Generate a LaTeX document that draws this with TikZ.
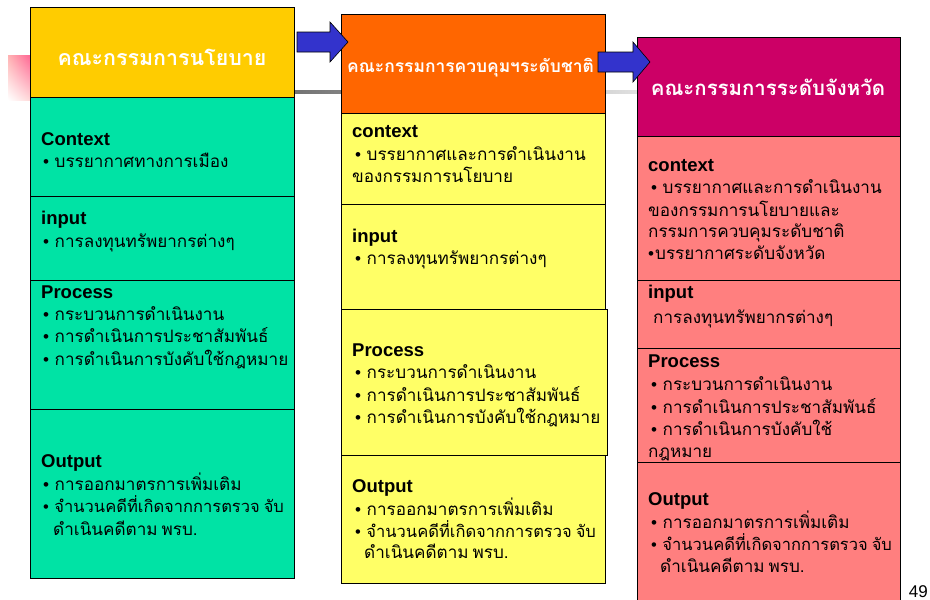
\documentclass[tikz,border=0pt]{standalone}
\usepackage{fontspec}
\setmainfont{Liberation Sans}
\newfontfamily\thaifont[Script=Thai]{Loma}
\usetikzlibrary{calc,shadings}
\definecolor{hyel}{HTML}{FFCC00}
\definecolor{bgreen}{HTML}{00E3A5}
\definecolor{horange}{HTML}{FF6600}
\definecolor{byellow}{HTML}{FFFF66}
\definecolor{hmag}{HTML}{CC0066}
\definecolor{bpink}{HTML}{FF7F7F}
\definecolor{barrow}{HTML}{3333CC}
\newcommand\bu{{\rmfamily •}\hspace{5.5pt}}
\newcommand\tsp{\hspace{4pt}}
\newcommand\pbox[6]{\node[panel, fill=#6, minimum width=#4pt, minimum height=#5pt] (#1) at (#2,#3) {};}
\begin{document}
\begin{tikzpicture}[x=1pt,y=-1pt,
 panel/.style={draw=black, line width=0.8pt, anchor=north west, inner sep=0pt, outer sep=0pt},
 lab/.style={anchor=base west, inner sep=0pt, font=\fontsize{18.5}{18.5}\selectfont\bfseries},
 item/.style={anchor=base west, inner sep=0pt, font=\fontsize{17.1}{17.1}\thaifont},
 itemn/.style={item, font=\fontsize{16.5}{16.5}\thaifont},
 head/.style={inner sep=0pt, text=white, font=\fontsize{21.4}{21.4}\thaifont\bfseries},
 blockarrow/.style={draw=black, fill=barrow, line width=0.6pt, line join=miter}]
\useasboundingbox (0,0) rectangle (930,600);
% background decoration
\shade[upper left=red!30, upper right=red!70!magenta!60, lower left=white, lower right=red!15] (8,55) rectangle (30,100);
\shade[left color=black!55, right color=black!12] (294,90.5) rectangle (637,93.5);
% column 1
\pbox{h1}{30}{7}{264}{90}{hyel}
\pbox{c1ctx}{30}{97}{264}{99}{bgreen}
\pbox{c1inp}{30}{196}{264}{84}{bgreen}
\pbox{c1pro}{30}{280}{264}{129}{bgreen}
\pbox{c1out}{30}{409}{264}{169}{bgreen}
% column 2
\pbox{h2}{341}{14}{264}{99}{horange}
\pbox{c2ctx}{341}{113}{264}{91}{byellow}
\pbox{c2inp}{341}{204}{264}{105}{byellow}
\pbox{c2pro}{341}{309}{266}{146}{byellow}
\pbox{c2out}{341}{455}{264}{128}{byellow}
% column 3
\pbox{h3}{637}{37}{263}{99}{hmag}
\pbox{c3ctx}{637}{136}{263}{144}{bpink}
\pbox{c3inp}{637}{280}{263}{68}{bpink}
\pbox{c3pro}{637}{348}{263}{114}{bpink}
\pbox{c3out}{637}{462}{263}{145}{bpink}
% headers
\node[head, anchor=base] (t1) at (162,65) {คณะกรรมการนโยบาย};
\node[head, anchor=base west, font=\fontsize{17.4}{17.4}\thaifont\bfseries] (t2) at (347,72) {คณะกรรมการควบคุมฯระดับชาติ};
\node[head, anchor=base, font=\fontsize{20.4}{20.4}\thaifont\bfseries] (t3) at (768,95) {คณะกรรมการระดับจังหวัด};
% column 1 text
\node[lab] (l11) at (41,145) {Context};
\node[item] (i11) at (43,167) {\bu บรรยากาศทางการเมือง};
\node[lab] (l12) at (41,224) {input};
\node[item] (i12) at (43,247) {\bu การลงทุนทรัพยากรต่างๆ};
\node[lab] (l13) at (41,298) {Process};
\node[item] (i13a) at (43,320) {\bu กระบวนการดำเนินงาน};
\node[item] (i13b) at (43,342) {\bu การดำเนินการประชาสัมพันธ์};
\node[item] (i13c) at (43,365) {\bu การดำเนินการบังคับใช้กฎหมาย};
\node[lab] (l14) at (41,467) {Output};
\node[item] (i14a) at (43,490) {\bu การออกมาตรการเพิ่มเติม};
\node[itemn] (i14b) at (43,512) {\bu จำนวนคดีที่เกิดจากการตรวจ\tsp จับ};
\node[item] (i14c) at (53,535) {ดำเนินคดีตาม\tsp พรบ.};
% column 2 text
\node[lab] (l21) at (352,137) {context};
\node[item] (i21a) at (355,160) {\bu บรรยากาศและการดำเนินงาน};
\node[item] (i21b) at (352,182) {ของกรรมการนโยบาย};
\node[lab] (l22) at (352,242) {input};
\node[item] (i22) at (355,264) {\bu การลงทุนทรัพยากรต่างๆ};
\node[lab] (l23) at (352,356) {Process};
\node[item] (i23a) at (355,378) {\bu กระบวนการดำเนินงาน};
\node[item] (i23b) at (355,401) {\bu การดำเนินการประชาสัมพันธ์};
\node[item] (i23c) at (355,423) {\bu การดำเนินการบังคับใช้กฎหมาย};
\node[lab] (l24) at (352,492) {Output};
\node[item] (i24a) at (355,515) {\bu การออกมาตรการเพิ่มเติม};
\node[itemn] (i24b) at (355,537) {\bu จำนวนคดีที่เกิดจากการตรวจ\tsp จับ};
\node[item] (i24c) at (364,558) {ดำเนินคดีตาม\tsp พรบ.};
% column 3 text
\node[lab] (l31) at (648,171) {context};
\node[item] (i31a) at (651,193) {\bu บรรยากาศและการดำเนินงาน};
\node[item] (i31b) at (648,216) {ของกรรมการนโยบายและ};
\node[item] (i31c) at (648,237) {กรรมการควบคุมระดับชาติ};
\node[item] (i31d) at (648,259) {{\rmfamily •}\hspace{1pt}บรรยากาศระดับจังหวัด};
\node[lab] (l32) at (648,298) {input};
\node[item] (i32) at (653,323) {การลงทุนทรัพยากรต่างๆ};
\node[lab] (l33) at (648,367) {Process};
\node[item] (i33a) at (651,390) {\bu กระบวนการดำเนินงาน};
\node[item] (i33b) at (651,413) {\bu การดำเนินการประชาสัมพันธ์};
\node[item] (i33c) at (651,435) {\bu การดำเนินการบังคับใช้};
\node[item] (i33d) at (648,457) {กฎหมาย};
\node[lab] (l34) at (648,505) {Output};
\node[item] (i34a) at (651,528) {\bu การออกมาตรการเพิ่มเติม};
\node[itemn] (i34b) at (651,550) {\bu จำนวนคดีที่เกิดจากการตรวจ\tsp จับ};
\node[item] (i34c) at (660,572) {ดำเนินคดีตาม\tsp พรบ.};
% arrows
\coordinate (a1) at ($(h1.north east)+(3,35)$);
\draw[blockarrow] ($(a1)+(0,-10)$) -- ++(33,0) -- ++(0,-10) -- ++(18,20) -- ++(-18,20) -- ++(0,-10) -- ++(-33,0) -- cycle;
\coordinate (a2) at ($(h2.north east)+(-7,48)$);
\draw[blockarrow] ($(a2)+(0,-10)$) -- ++(35,0) -- ++(0,-10) -- ++(17,20) -- ++(-17,20) -- ++(0,-10) -- ++(-35,0) -- cycle;
% page number
\node[anchor=base east, inner sep=0pt, font=\fontsize{17}{17}\selectfont] (pg) at (928,597.5) {49};
\end{tikzpicture}
\end{document}
